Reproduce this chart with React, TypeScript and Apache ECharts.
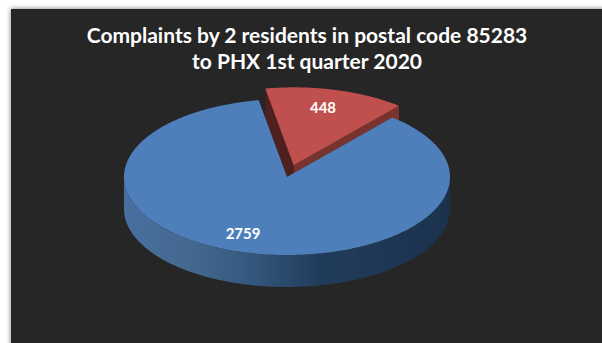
import React, { useEffect, useRef } from "react";
import * as echarts from "echarts";

const titleText = "Complaints by 2 residents in postal code 85283\nto PHX 1st quarter 2020";
const sliceNames = ["Group A", "Group B"];
const sliceValues = [448, 2759];
const sliceTopColors = ["#c0504d", "#4f7fbb"];
const sliceLeftFaceColors = ["#4f201e", "#23405f"];
const sliceRightFaceColors = ["#78332f", "#23405f"];
const sliceExplode = [0.155, 0];
const labelAngleShift = [-1.5, 5.5];

const START_ANGLE = 350;
const CX = 287;
const CY = 177;
const RX = 163;
const RY = 78;
const DEPTH = 32;
const LABEL_RADIUS = 0.765;

const total = sliceValues.reduce((a, b) => a + b, 0);

// Projects a clockwise-from-north angle onto the tilted pie's ellipse.
const project = (deg: number, radial: number, ox: number, oy: number, drop = 0): number[] => {
  const rad = (deg * Math.PI) / 180;
  return [ox + Math.sin(rad) * RX * radial, oy - Math.cos(rad) * RY * radial + drop];
};

const arcPoints = (from: number, to: number, ox: number, oy: number, drop = 0): number[][] => {
  const pts: number[][] = [];
  const steps = Math.max(2, Math.ceil((to - from) * 2));
  for (let i = 0; i <= steps; i++) {
    pts.push(project(from + ((to - from) * i) / steps, 1, ox, oy, drop));
  }
  return pts;
};

const renderSlice = (params: any, api: any) => {
  const i = params.dataIndex;
  const value = api.value(1);
  const before = sliceValues.slice(0, i).reduce((a, b) => a + b, 0);
  const from = (START_ANGLE + (before / total) * 360) % 360;
  const to = from + (value / total) * 360;
  const mid = (from + to) / 2;
  const [ox, oy] = project(mid, sliceExplode[i], CX, CY);
  const apex = [ox, oy];
  const apexLow = [ox, oy + DEPTH];
  const startOuter = project(from, 1, ox, oy);
  const endOuter = project(to, 1, ox, oy);
  const children: any[] = [];

  // Cut faces of the wedge
  children.push({
    type: "polygon",
    shape: { points: [startOuter, apex, apexLow, [startOuter[0], startOuter[1] + DEPTH]] },
    style: { fill: sliceLeftFaceColors[i] },
  });
  children.push({
    type: "polygon",
    shape: { points: [apex, endOuter, [endOuter[0], endOuter[1] + DEPTH], apexLow] },
    style: { fill: sliceRightFaceColors[i] },
  });

  // Outer rim: only the part turned toward the viewer, lit from the left
  const rimFrom = Math.max(from, 90);
  const rimTo = Math.min(to, 270);
  if (rimTo > rimFrom) {
    const upper = arcPoints(rimFrom, rimTo, ox, oy);
    const lower = arcPoints(rimFrom, rimTo, ox, oy, DEPTH).reverse();
    children.push({
      type: "polygon",
      shape: { points: upper.concat(lower) },
      style: {
        fill: new echarts.graphic.LinearGradient(0, 0, 1, 0, [
          { offset: 0, color: "#486f9f" },
          { offset: 0.2, color: "#44698f" },
          { offset: 0.4, color: "#33567c" },
          { offset: 0.6, color: "#213c5b" },
          { offset: 1, color: "#1b324e" },
        ]),
      },
    });
  }

  // Top face
  children.push({
    type: "polygon",
    shape: { points: [apex].concat(arcPoints(from, to, ox, oy)) },
    style: { fill: sliceTopColors[i] },
  });

  // Value label
  const labelPos = project(mid + labelAngleShift[i], LABEL_RADIUS, ox, oy);
  children.push({
    type: "text",
    x: labelPos[0],
    y: labelPos[1],
    style: {
      text: String(value),
      fill: "#ffffff",
      fontFamily: "Lato",
      fontWeight: "bold",
      fontSize: 15,
      align: "center",
      verticalAlign: "middle",
    },
  });

  return { type: "group", children };
};

export default function App() {
  const ref = useRef<HTMLDivElement>(null);

  useEffect(() => {
    const chart = echarts.init(ref.current, null, { renderer: "svg" });
    chart.setOption({
      animation: false,
      backgroundColor: "#ffffff",
      graphic: [
        {
          type: "rect",
          z: -1,
          shape: { x: 11, y: 9, width: 600, height: 340 },
          style: {
            fill: "#262626",
            shadowBlur: 5,
            shadowColor: "rgba(0,0,0,0.55)",
          },
        },
      ],
      title: {
        text: titleText,
        left: 302,
        top: 16,
        textAlign: "center",
        textStyle: {
          color: "#ffffff",
          fontFamily: "Lato",
          fontWeight: "bold",
          fontSize: 21,
          lineHeight: 26,
        },
      },
      series: [
        {
          type: "custom",
          coordinateSystem: "none",
          renderItem: renderSlice,
          data: sliceNames.map((name, i) => [name, sliceValues[i]]),
          encode: { value: 1 },
          silent: true,
        },
      ],
    });
    return () => chart.dispose();
  }, []);

  return (
    <div
      ref={ref}
      style={{ position: "fixed", left: 0, top: 0, width: 602, height: 343 }}
    />
  );
}
